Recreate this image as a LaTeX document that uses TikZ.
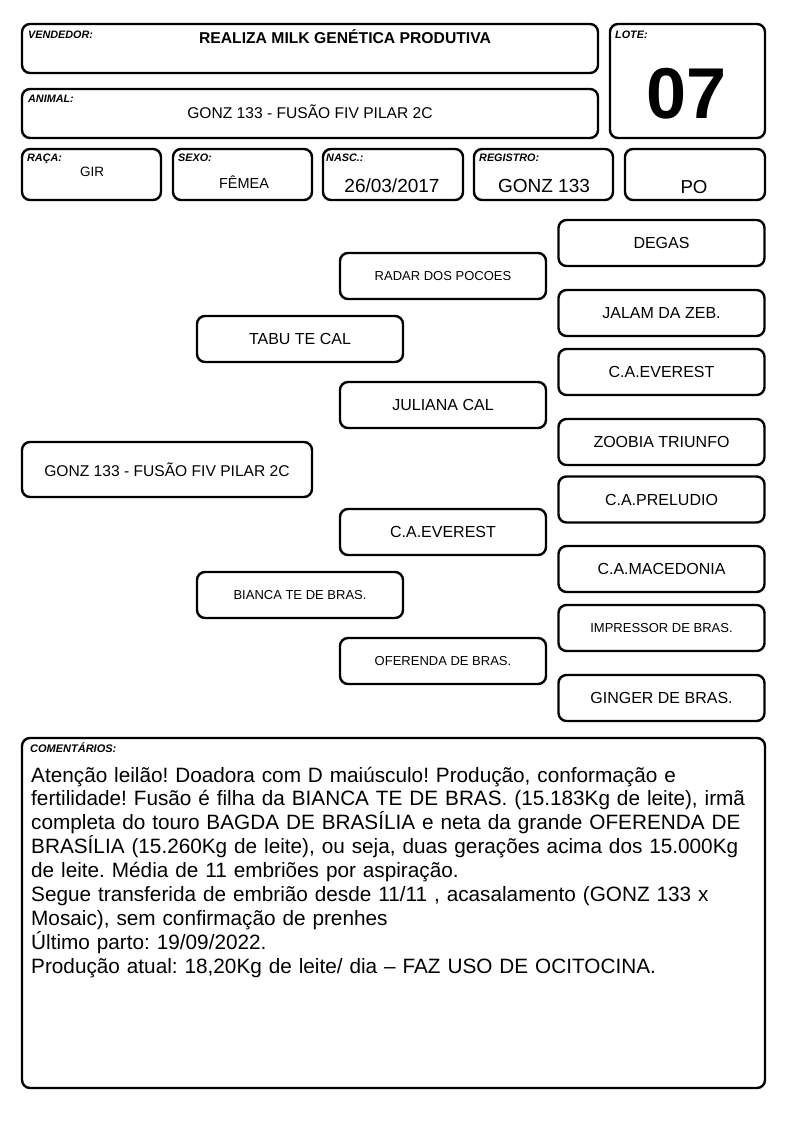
\documentclass[tikz,border=0pt]{standalone}
\usepackage{fontspec}
\setmainfont{Liberation Sans}
\frenchspacing
\begin{document}
\begin{tikzpicture}[x=1pt,y=-1pt,
  box/.style={draw, line width=2.4pt, rounded corners=8pt, inner sep=0pt},
  pbox/.style={box, minimum width=206pt, minimum height=46pt},
  lab/.style={anchor=base west, inner sep=0pt, font=\fontsize{10.8}{12}\selectfont\bfseries\itshape},
  val/.style={anchor=base, inner sep=0pt},
  big/.style={font=\fontsize{16}{19}\selectfont},
  small/.style={font=\fontsize{13}{15}\selectfont}]
\useasboundingbox (0,0) rectangle (794,1123);
% header
\node[box, minimum width=576pt, minimum height=49pt] (vend) at (310,48.5) {};
\node[lab] (vendl) at (28,39) {VENDEDOR:};
\node[val, font=\fontsize{15.7}{18}\selectfont\bfseries] (vendv) at (345,44) {REALIZA MILK GENÉTICA PRODUTIVA};
\node[box, minimum width=576pt, minimum height=49pt] (anim) at (310,113.5) {};
\node[lab] (animl) at (28,103) {ANIMAL:};
\node[val, font=\fontsize{15.6}{19}\selectfont] (animv) at (310,119) {GONZ 133 - FUSÃO FIV PILAR 2C};
\node[box, minimum width=155pt, minimum height=114pt] (lote) at (687.5,81) {};
\node[lab] (lotel) at (615,39) {LOTE:};
\node[val, font=\fontsize{72}{80}\selectfont\bfseries] (lotev) at (687,119) {07};
% row 3
\node[box, minimum width=139pt, minimum height=51pt] (raca) at (91.5,174.5) {};
\node[lab] (racal) at (27,162) {RAÇA:};
\node[val, font=\fontsize{13.5}{16}\selectfont] (racav) at (92,177) {GIR};
\node[box, minimum width=139pt, minimum height=51pt] (sexo) at (242.5,174.5) {};
\node[lab] (sexol) at (178,162) {SEXO:};
\node[val, font=\fontsize{14.5}{17}\selectfont] (sexov) at (244,189) {FÊMEA};
\node[box, minimum width=140pt, minimum height=51pt] (nasc) at (393,174.5) {};
\node[lab] (nascl) at (326,162) {NASC.:};
\node[val, font=\fontsize{19}{22}\selectfont] (nascv) at (392,193) {26/03/2017};
\node[box, minimum width=139pt, minimum height=51pt] (reg) at (543.5,174.5) {};
\node[lab] (regl) at (479,162) {REGISTRO:};
\node[val, font=\fontsize{19}{22}\selectfont] (regv) at (544,193) {GONZ 133};
\node[box, minimum width=140pt, minimum height=51pt] (po) at (695,174.5) {};
\node[val, font=\fontsize{18.7}{22}\selectfont] (pov) at (694,194) {PO};
% pedigree
\node[box, minimum width=290pt, minimum height=55pt, font=\fontsize{15.6}{19}\selectfont] (p0) at (167,469.5) {GONZ 133 - FUSÃO FIV PILAR 2C};
\node[pbox, big] (tabu) at (300,339) {TABU TE CAL};
\node[pbox, small] (bianca) at (300,595) {BIANCA TE DE BRAS.};
\node[pbox, small] (radar) at (443,276) {RADAR DOS POCOES};
\node[pbox, big] (juliana) at (443,405) {JULIANA CAL};
\node[pbox, big] (everesta) at (443,532) {C.A.EVEREST};
\node[pbox, small] (oferenda) at (443,661) {OFERENDA DE BRAS.};
\node[pbox, big] (degas) at (661.5,243) {DEGAS};
\node[pbox, big] (jalam) at (661.5,313) {JALAM DA ZEB.};
\node[pbox, big] (everestb) at (661.5,372) {C.A.EVEREST};
\node[pbox, big] (zoobia) at (661.5,442) {ZOOBIA TRIUNFO};
\node[pbox, big] (preludio) at (661.5,499.5) {C.A.PRELUDIO};
\node[pbox, big] (macedonia) at (661.5,569) {C.A.MACEDONIA};
\node[pbox, small] (impressor) at (661.5,628) {IMPRESSOR DE BRAS.};
\node[pbox, big] (ginger) at (661.5,698) {GINGER DE BRAS.};
% comments
\node[box, minimum width=743pt, minimum height=350pt] (com) at (393.5,913) {};
\node[lab, font=\fontsize{11}{12}\selectfont\bfseries\itshape] (coml) at (30,752.5) {COMENTÁRIOS:};
\node[anchor=base west, inner sep=0pt, text width=740pt, align=left, font=\fontsize{20.75}{23.9}\selectfont] (comt) at (31,782) {Atenção leilão! Doadora com D maiúsculo! Produção, conformação e\\
fertilidade! Fusão é filha da BIANCA TE DE BRAS. (15.183Kg de leite), irmã\\
completa do touro BAGDA DE BRASÍLIA e neta da grande OFERENDA DE\\
BRASÍLIA (15.260Kg de leite), ou seja, duas gerações acima dos 15.000Kg\\
de leite. Média de 11 embriões por aspiração.\\
Segue transferida de embrião desde 11/11 , acasalamento (GONZ 133 x\\
Mosaic), sem confirmação de prenhes\\
Último parto: 19/09/2022.\\
Produção atual: 18,20Kg de leite/ dia -- FAZ USO DE OCITOCINA.};
\end{tikzpicture}
\end{document}
